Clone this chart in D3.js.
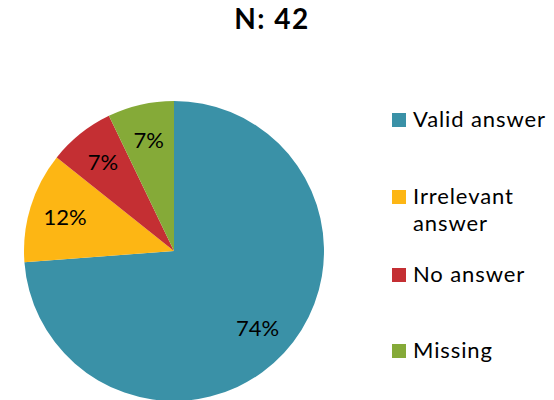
<!DOCTYPE html>
<html>
<head>
<meta charset="utf-8">
<script src="https://cdn.jsdelivr.net/npm/d3@7"></script>
<style>
  body { margin: 0; background: #fff; }
  svg { display: block; font-family: Lato, "Open Sans", sans-serif; }
</style>
</head>
<body>
<div id="chart"></div>
<script>
const title = "N: 42"
const categories = ["Valid answer", "Irrelevant answer", "No answer", "Missing"]
const legendLines = [["Valid answer"], ["Irrelevant", "answer"], ["No answer"], ["Missing"]]
const counts = [31, 5, 3, 3]
const colors = ["#3A91A7", "#FDB614", "#C42F33", "#85AA38"]

const config = {
  w: 554,
  h: 400,
  cx: 174,
  cy: 251,
  r: 150,
  labelR: 114,
  legendX: 392,
  legendY: [127, 204, 282, 358]
}

const total = d3.sum(counts)

const svg = d3.select("#chart")
  .append("svg")
  .attr("width", config.w)
  .attr("height", config.h)

svg.append("text")
  .attr("x", 272)
  .attr("y", 29)
  .attr("text-anchor", "middle")
  .style("font-size", "28px")
  .style("font-weight", "bold")
  .style("letter-spacing", "1.5px")
  .text(title)

const pie = d3.pie().sort(null).value(d => d)
const arcs = pie(counts)

const arc = d3.arc().innerRadius(0).outerRadius(config.r)
const labelArc = d3.arc().innerRadius(config.labelR).outerRadius(config.labelR)

const g = svg.append("g")
  .attr("transform", "translate(" + config.cx + "," + config.cy + ")")

g.selectAll("path")
  .data(arcs)
  .enter()
  .append("path")
  .attr("d", arc)
  .attr("fill", (d, i) => colors[i])

g.selectAll("text")
  .data(arcs)
  .enter()
  .append("text")
  .attr("transform", d => "translate(" + labelArc.centroid(d) + ")")
  .attr("text-anchor", "middle")
  .attr("dy", "0.36em")
  .style("font-size", "22px")
  .text(d => Math.round(d.value / total * 100) + "%")

// legend
const legend = svg.selectAll(".legend")
  .data(categories)
  .enter()
  .append("g")
  .attr("class", "legend")
  .attr("transform", (d, i) => "translate(" + config.legendX + "," + config.legendY[i] + ")")

legend.append("rect")
  .attr("x", 0)
  .attr("y", -14)
  .attr("width", 14)
  .attr("height", 14)
  .attr("fill", (d, i) => colors[i])

legend.append("text")
  .attr("x", 21)
  .attr("y", 0)
  .style("font-size", "22px")
  .style("letter-spacing", "0.9px")
  .each(function (d, i) {
    const t = d3.select(this)
    legendLines[i].forEach((line, j) => {
      t.append("tspan")
        .attr("x", 21)
        .attr("y", j * 27)
        .text(line)
    })
  })
</script>
</body>
</html>
